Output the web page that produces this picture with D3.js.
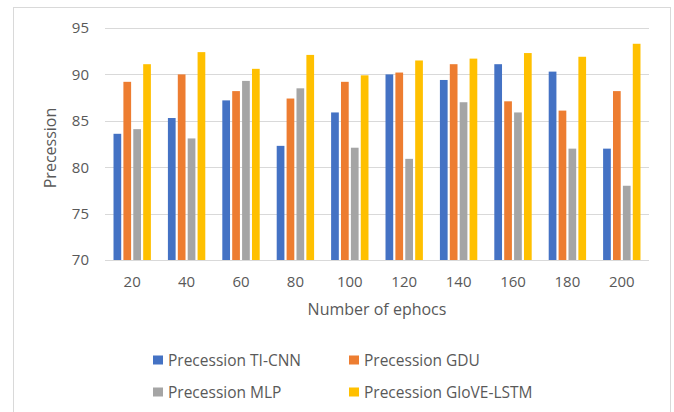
<!DOCTYPE html>
<html>
<head>
<meta charset="utf-8">
<script src="https://cdn.jsdelivr.net/npm/d3@7/dist/d3.min.js"></script>
<style>
  html, body { margin: 0; padding: 0; background: #fff; }
  svg { display: block; }
  text { font-family: "Open Sans", "Noto Sans", sans-serif; fill: #595959; }
</style>
</head>
<body>
<svg id="chart" width="674" height="412"></svg>
<script>
const categories = ["20", "40", "60", "80", "100", "120", "140", "160", "180", "200"];
const seriesNames = ["Precession TI-CNN", "Precession GDU", "Precession MLP", "Precession GloVE-LSTM"];
const tiCnn     = [83.6, 85.3, 87.2, 82.3, 85.9, 90.0, 89.4, 91.1, 90.3, 82.0];
const gdu       = [89.2, 90.0, 88.2, 87.4, 89.2, 90.2, 91.1, 87.1, 86.1, 88.2];
const mlp       = [84.1, 83.1, 89.3, 88.5, 82.1, 80.9, 87.0, 85.9, 82.0, 78.0];
const gloveLstm = [91.1, 92.4, 90.6, 92.1, 89.9, 91.5, 91.7, 92.3, 91.9, 93.3];
const yTicks = [70, 75, 80, 85, 90, 95];
const colors = ["#4472C4", "#ED7D31", "#A5A5A5", "#FFC000"];
const seriesValues = [tiCnn, gdu, mlp, gloveLstm];

const svg = d3.select("#chart");

// outer frame
svg.append("rect")
  .attr("x", 13.5).attr("y", 7.5)
  .attr("width", 657).attr("height", 420)
  .attr("fill", "none").attr("stroke", "#d9d9d9").attr("stroke-width", 1);

const plot = { left: 105, right: 649, top: 28, bottom: 260 };

const x0 = d3.scaleBand().domain(categories).range([plot.left, plot.right]).padding(0);
const x1 = d3.scaleBand().domain(seriesNames).range([0, x0.bandwidth()])
  .paddingInner(0.22).paddingOuter(0.86);
const y = d3.scaleLinear().domain([70, 95]).range([plot.bottom, plot.top]);

// gridlines
svg.append("g").selectAll("line").data(yTicks).join("line")
  .attr("x1", plot.left).attr("x2", plot.right)
  .attr("y1", d => Math.round(y(d)) + 0.5).attr("y2", d => Math.round(y(d)) + 0.5)
  .attr("stroke", "#d9d9d9").attr("stroke-width", 1);

// y axis labels
const yAxis = d3.axisLeft(y).tickValues(yTicks).tickSize(0).tickPadding(16);
const gy = svg.append("g").attr("transform", `translate(${plot.left},0)`).call(yAxis);
gy.select(".domain").remove();
gy.selectAll("text").attr("font-size", 15).attr("fill", "#595959")
  .style("font-family", '"Open Sans", sans-serif');

// bars
const groups = svg.append("g").selectAll("g").data(categories).join("g")
  .attr("transform", d => `translate(${x0(d)},0)`);
groups.selectAll("rect")
  .data((d, i) => seriesNames.map((s, j) => ({ s, j, v: seriesValues[j][i] })))
  .join("rect")
  .attr("x", d => x1(d.s))
  .attr("width", x1.bandwidth())
  .attr("y", d => y(d.v))
  .attr("height", d => y(70) - y(d.v))
  .attr("fill", d => colors[d.j]);

// x axis
const xAxis = d3.axisBottom(x0).tickSize(0).tickPadding(16);
const gx = svg.append("g").attr("transform", `translate(0,${plot.bottom})`).call(xAxis);
gx.select(".domain").remove();
gx.selectAll("text").attr("font-size", 15).attr("fill", "#595959")
  .style("font-family", '"Open Sans", sans-serif');
svg.append("line")
  .attr("x1", plot.left).attr("x2", plot.right)
  .attr("y1", plot.bottom + 0.5).attr("y2", plot.bottom + 0.5)
  .attr("stroke", "#d9d9d9");

// axis titles
svg.append("text")
  .attr("x", (plot.left + plot.right) / 2).attr("y", 315)
  .attr("text-anchor", "middle").attr("font-size", 16)
  .text("Number of ephocs");
svg.append("text")
  .attr("transform", `translate(56,148) rotate(-90)`)
  .attr("text-anchor", "middle").attr("font-size", 16)
  .text("Precession");

// legend
const legendPos = [[153, 360], [349, 360], [153, 392], [349, 392]];
const lg = svg.append("g").selectAll("g").data(seriesNames).join("g")
  .attr("transform", (d, i) => `translate(${legendPos[i][0]},${legendPos[i][1]})`);
lg.append("rect").attr("x", 0).attr("y", -4.5).attr("width", 10).attr("height", 9)
  .attr("fill", (d, i) => colors[i]);
lg.append("text").attr("x", 15).attr("y", 5.5).attr("font-size", 15.5).text(d => d);
</script>
</body>
</html>
